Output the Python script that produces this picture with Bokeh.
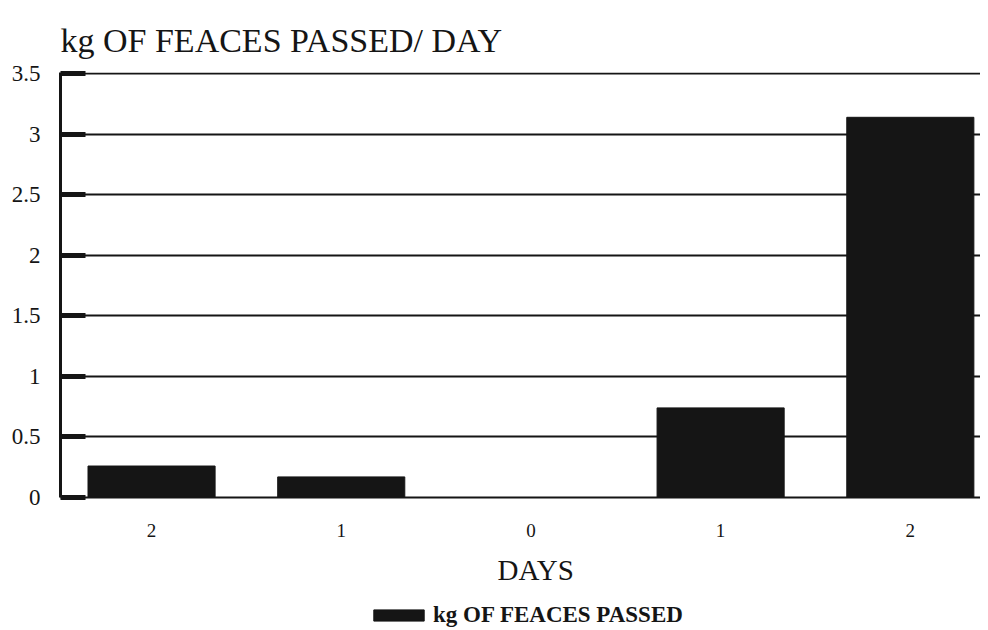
from bokeh.plotting import figure
from bokeh.layouts import column
from bokeh.models import ColumnDataSource, FixedTicker, Legend, LegendItem, Range1d, Title
from bokeh.embed import file_html
from bokeh.resources import INLINE

days = [-2, -1, 0, 1, 2]
day_labels = ["2", "1", "0", "1", "2"]
kg_feaces = [0.26, 0.17, 0.0, 0.74, 3.14]
y_ticks = [0, 0.5, 1, 1.5, 2, 2.5, 3, 3.5]
y_labels = ["0", "0.5", "1", "1.5", "2", "2.5", "3", "3.5"]
title_text = "kg OF FEACES PASSED/ DAY"
x_title = "DAYS"
series_name = "kg OF FEACES PASSED"

FONT = "Liberation Serif"
INK = "#151515"

src = ColumnDataSource(dict(x=days, top=kg_feaces))

p = figure(width=980, height=598, output_backend="svg", toolbar_location=None,
           x_range=Range1d(-2.48, 2.37), y_range=Range1d(0, 3.51),
           min_border_left=60, min_border_right=0, min_border_bottom=100,
           min_border_top=72, outline_line_color=None,
           background_fill_color="white", border_fill_color="white")

p.title.text = title_text
p.title.text_font = FONT
p.title.text_font_size = "34px"
p.title.text_font_style = "normal"
p.title.text_color = INK
p.title.align = "left"
p.title.text_line_height = 1.0
p.title.standoff = 28

r = p.vbar(x="x", top="top", width=0.67, bottom=0, source=src,
           fill_color=INK, line_color=INK)

# y axis
ya = p.yaxis[0]
ya.ticker = FixedTicker(ticks=y_ticks)
ya.major_label_overrides = {t: l for t, l in zip(y_ticks, y_labels)}
ya.major_label_text_font = FONT
ya.major_label_text_font_size = "23px"
ya.major_label_text_color = INK
ya.major_label_standoff = 20
ya.axis_line_width = 3
ya.axis_line_color = INK
ya.major_tick_in = 25
ya.major_tick_out = 0
ya.major_tick_line_width = 5
ya.major_tick_line_color = INK
ya.minor_tick_line_color = None

# x axis
xa = p.xaxis[0]
xa.ticker = FixedTicker(ticks=days)
xa.major_label_overrides = {d: l for d, l in zip(days, day_labels)}
xa.major_label_text_font = FONT
xa.major_label_text_font_size = "19px"
xa.major_label_text_color = INK
xa.major_label_standoff = 20
xa.major_tick_line_color = None
xa.minor_tick_line_color = None
xa.axis_line_width = 2
xa.axis_line_color = INK

p.add_layout(Title(text=x_title, align="left", offset=437,
                   text_font=FONT, text_font_size="29px",
                   text_font_style="normal", text_color=INK,
                   standoff=25), "below")

p.xgrid.grid_line_color = None
p.ygrid.ticker = FixedTicker(ticks=y_ticks[1:])
p.ygrid.grid_line_color = INK
p.ygrid.grid_line_width = 2
p.ygrid.level = "underlay"

# legend strip below the chart
p2 = figure(width=980, height=32, output_backend="svg", toolbar_location=None,
            x_range=Range1d(10, 11), y_range=Range1d(10, 11),
            x_axis_type=None, y_axis_type=None,
            min_border=0, outline_line_color=None,
            background_fill_color="white", border_fill_color="white")
p2.grid.visible = False
r2 = p2.vbar(x="x", top="top", width=0.67, source=src,
             fill_color=INK, line_color=INK)

legend = Legend(items=[LegendItem(label=series_name, renderers=[r2])],
                orientation="horizontal", location=(307, 2),
                glyph_width=63, glyph_height=14,
                label_text_font=FONT, label_text_font_size="23px",
                label_text_font_style="bold", label_text_color=INK,
                border_line_color=None, background_fill_alpha=0,
                padding=0, margin=0, spacing=0, label_standoff=3,
                label_height=16)
p2.add_layout(legend, "center")

layout = column(p, p2, spacing=0)
open("out.html", "w").write(file_html(layout, INLINE))
